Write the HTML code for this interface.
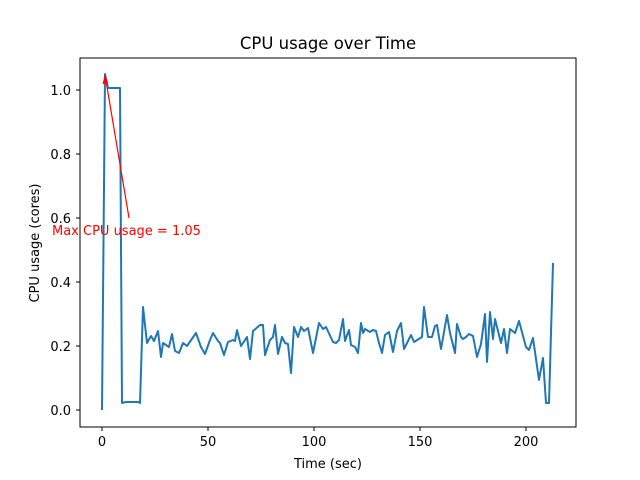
<!DOCTYPE html>
<html><head><meta charset="utf-8"><style>body{margin:0;background:#fff}svg{display:block}</style></head>
<body>
<svg width="640" height="480" xmlns="http://www.w3.org/2000/svg" font-family="'DejaVu Sans', sans-serif">
<rect width="640" height="480" fill="#fff"/>
<text x="328" y="49" font-size="16.5" text-anchor="middle">CPU usage over Time</text>
<polyline fill="none" stroke="#1f77b4" stroke-width="2" stroke-linejoin="round" points="102,410 105,74 108,88 120,88 122,403 126,402 138,402 140,403 143,307 147,343 151,336 154,341 158,331 161,357 163,343 169,347 172,334 175,351 179,353 183,343 187,346 196,333 201,347 205,354 210,340 213,333 218,341 220,343 224,355 228,342 233,340 235,341 237,330 241,346 247,337 250,359 253,331 260,325 263,325 265,355 270,340 273,337 275,325 278,354 282,337 285,343 288,344 291,373 294,327 298,337 301,327 304,331 308,328 313,353 319,323 323,329 326,327 333,342 336,343 339,340 343,319 345,341 349,330 351,345 355,347 358,353 361,323 363,333 365,329 370,332 373,330 376,331 379,343 382,353 385,335 389,332 393,352 397,331 401,323 404,349 411,335 414,342 422,337 424,307 428,337 432,337 435,326 437,325 441,349 447,315 450,333 455,353 457,324 461,337 463,339 466,337 469,334 473,336 477,357 481,344 485,314 487,362 490,312 493,339 495,319 501,343 504,329 507,353 510,329 515,333 519,321 526,347 529,350 533,338 539,380 543,358 546,403 549,403 553,263"/>
<line x1="129" y1="218" x2="105.5" y2="78" stroke="red" stroke-width="1.2"/>
<polygon points="105,74 102.5,84 108,83" fill="red"/>
<text x="52" y="235" font-size="13" fill="red">Max CPU usage = 1.05</text>
<rect x="80" y="58" width="496" height="369" fill="none" stroke="#000" stroke-width="1"/>
<g stroke="#000" stroke-width="1">
<line x1="102" y1="427" x2="102" y2="431"/><line x1="208" y1="427" x2="208" y2="431"/><line x1="314" y1="427" x2="314" y2="431"/><line x1="420" y1="427" x2="420" y2="431"/><line x1="526" y1="427" x2="526" y2="431"/>
<line x1="76" y1="410" x2="80" y2="410"/><line x1="76" y1="346" x2="80" y2="346"/><line x1="76" y1="282" x2="80" y2="282"/><line x1="76" y1="218" x2="80" y2="218"/><line x1="76" y1="154" x2="80" y2="154"/><line x1="76" y1="90" x2="80" y2="90"/>
</g>
<g font-size="13" text-anchor="middle">
<text x="102" y="446">0</text><text x="208" y="446">50</text><text x="314" y="446">100</text><text x="420" y="446">150</text><text x="526" y="446">200</text>
<text x="328" y="468">Time (sec)</text>
</g>
<g font-size="13" text-anchor="end">
<text x="71" y="415">0.0</text><text x="71" y="351">0.2</text><text x="71" y="287">0.4</text><text x="71" y="223">0.6</text><text x="71" y="159">0.8</text><text x="71" y="95">1.0</text>
</g>
<text transform="translate(39,243) rotate(-90)" font-size="13" text-anchor="middle">CPU usage (cores)</text>
</svg>
</body></html>
